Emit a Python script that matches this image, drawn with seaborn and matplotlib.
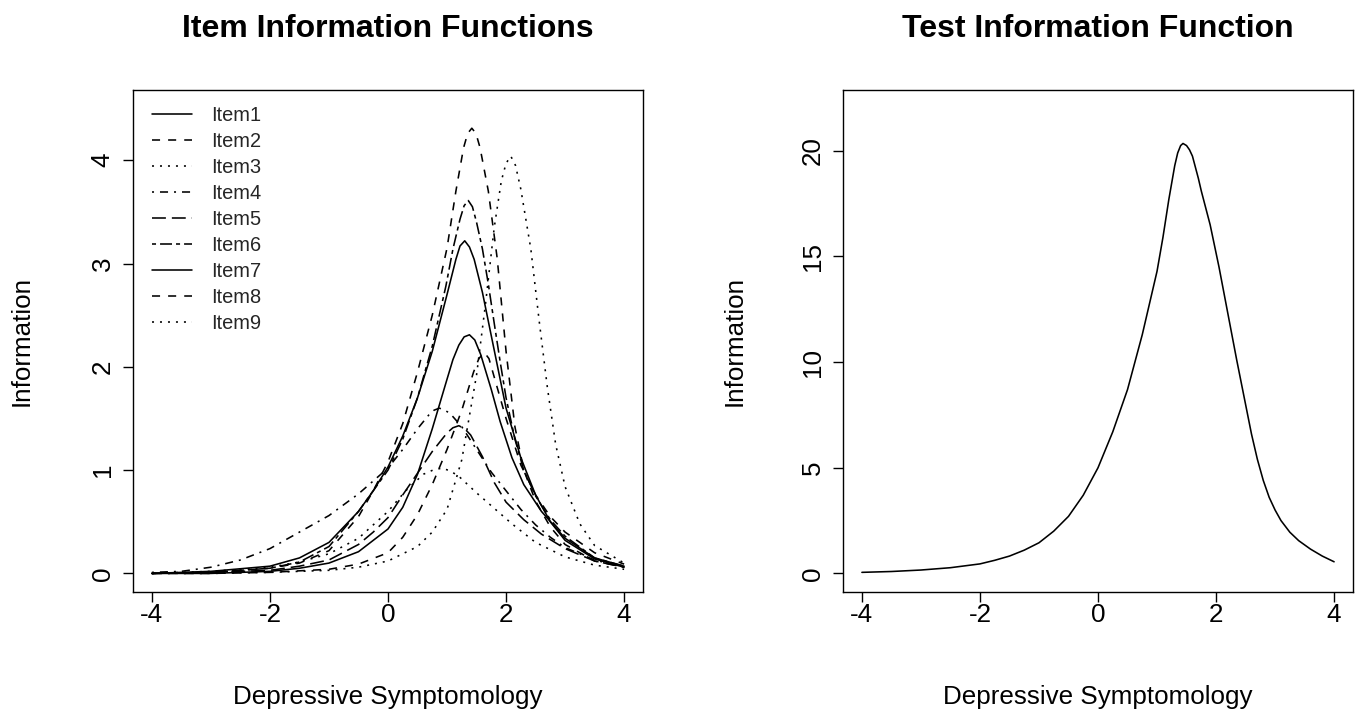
import matplotlib
matplotlib.use("Agg")
import matplotlib.pyplot as plt
import seaborn as sns
import pandas as pd

# ---------------- data ----------------
item_names = ["Item1", "Item2", "Item3", "Item4", "Item5", "Item6", "Item7", "Item8", "Item9"]

item1_theta = [-4, -3, -2, -1.5, -1, -0.5, -0.25, 0, 0.25, 0.5, 0.75, 1, 1.15, 1.22, 1.3, 1.38, 1.46, 1.6, 1.75, 2, 2.25, 2.5, 2.75, 3, 3.5, 4]
item1_info = [0.00, 0.02, 0.07, 0.15, 0.30, 0.60, 0.80, 1.03, 1.33, 1.70, 2.15, 2.70, 3.04, 3.17, 3.22, 3.16, 3.04, 2.72, 2.30, 1.60, 1.12, 0.76, 0.50, 0.32, 0.14, 0.06]

item2_theta = [-4, -3, -2, -1.5, -1, -0.5, -0.25, 0, 0.25, 0.5, 0.75, 1, 1.15, 1.28, 1.35, 1.42, 1.49, 1.56, 1.7, 1.85, 2, 2.15, 2.3, 2.5, 2.75, 3, 3.5, 4]
item2_info = [0.00, 0.01, 0.05, 0.10, 0.22, 0.55, 0.80, 1.08, 1.45, 1.95, 2.50, 3.15, 3.70, 4.12, 4.26, 4.31, 4.26, 4.12, 3.70, 3.05, 2.15, 1.42, 1.00, 0.70, 0.45, 0.28, 0.12, 0.06]

item3_theta = [-4, -3, -2, -1, -0.5, 0, 0.5, 0.75, 1, 1.25, 1.5, 1.65, 1.8, 1.92, 2.0, 2.08, 2.16, 2.25, 2.42, 2.56, 2.7, 2.84, 3, 3.25, 3.5, 4]
item3_info = [0.00, 0.00, 0.01, 0.03, 0.06, 0.12, 0.26, 0.40, 0.62, 1.10, 1.92, 2.60, 3.35, 3.80, 3.97, 4.04, 3.95, 3.72, 3.14, 2.45, 1.80, 1.25, 0.84, 0.48, 0.27, 0.10]

item4_theta = [-4, -3.5, -3, -2.5, -2, -1.5, -1, -0.5, 0, 0.25, 0.5, 0.7, 0.78, 0.87, 0.96, 1.05, 1.25, 1.5, 1.75, 2, 2.25, 2.5, 2.75, 3, 3.5, 4]
item4_info = [0.01, 0.02, 0.06, 0.13, 0.24, 0.40, 0.56, 0.77, 1.02, 1.20, 1.40, 1.54, 1.58, 1.60, 1.58, 1.55, 1.42, 1.20, 0.98, 0.80, 0.62, 0.47, 0.35, 0.25, 0.13, 0.06]

item5_theta = [-4, -3, -2, -1.5, -1, -0.5, -0.25, 0, 0.25, 0.5, 0.75, 1, 1.1, 1.2, 1.3, 1.4, 1.6, 1.8, 2, 2.3, 2.6, 3, 3.5, 4]
item5_info = [0.00, 0.01, 0.03, 0.07, 0.13, 0.28, 0.40, 0.54, 0.76, 0.97, 1.18, 1.36, 1.41, 1.43, 1.40, 1.34, 1.13, 0.88, 0.69, 0.52, 0.38, 0.24, 0.12, 0.06]

item6_theta = [-4, -3, -2, -1.5, -1, -0.5, -0.25, 0, 0.25, 0.5, 0.75, 0.98, 1.1, 1.22, 1.29, 1.36, 1.43, 1.5, 1.6, 1.7, 1.8, 1.9, 2, 2.15, 2.3, 2.5, 2.75, 3, 3.5, 4]
item6_info = [0.00, 0.01, 0.05, 0.11, 0.26, 0.60, 0.80, 1.00, 1.30, 1.70, 2.20, 2.78, 3.14, 3.43, 3.56, 3.61, 3.55, 3.40, 3.14, 2.80, 2.42, 2.05, 1.70, 1.30, 1.00, 0.75, 0.52, 0.36, 0.15, 0.07]

item7_theta = [-4, -3, -2, -1.5, -1, -0.5, 0, 0.25, 0.5, 0.75, 1, 1.1, 1.2, 1.29, 1.38, 1.47, 1.57, 1.75, 1.9, 2.1, 2.3, 2.6, 3, 3.5, 4]
item7_info = [0.00, 0.00, 0.02, 0.05, 0.10, 0.21, 0.43, 0.64, 0.96, 1.40, 1.88, 2.07, 2.21, 2.29, 2.31, 2.26, 2.12, 1.78, 1.47, 1.12, 0.86, 0.60, 0.34, 0.15, 0.07]

item8_theta = [-4, -3, -2, -1, -0.5, 0, 0.25, 0.5, 0.75, 1, 1.25, 1.45, 1.54, 1.63, 1.71, 1.8, 2, 2.25, 2.5, 2.75, 3, 3.5, 4]
item8_info = [0.00, 0.00, 0.01, 0.04, 0.09, 0.20, 0.35, 0.57, 0.86, 1.20, 1.58, 1.95, 2.08, 2.14, 2.08, 1.90, 1.50, 1.05, 0.76, 0.55, 0.40, 0.20, 0.09]

item9_theta = [-4, -3, -2, -1.5, -1, -0.5, 0, 0.3, 0.6, 0.76, 0.92, 1.06, 1.2, 1.5, 1.8, 2.1, 2.5, 3, 3.5, 4]
item9_info = [0.00, 0.02, 0.06, 0.11, 0.19, 0.34, 0.60, 0.80, 0.96, 1.00, 1.02, 0.99, 0.94, 0.78, 0.63, 0.48, 0.30, 0.16, 0.08, 0.04]

test_theta = [-4, -3.5, -3, -2.5, -2, -1.75, -1.5, -1.25, -1, -0.75, -0.5, -0.25, 0, 0.25, 0.5, 0.75, 1, 1.1, 1.2, 1.25, 1.3, 1.35, 1.4, 1.44, 1.5, 1.55, 1.6, 1.7, 1.75, 1.9, 2.05, 2.2, 2.35, 2.5, 2.6, 2.7, 2.8, 2.9, 3.0, 3.1, 3.25, 3.4, 3.6, 3.8, 4]
test_info = [0.05, 0.09, 0.16, 0.27, 0.45, 0.62, 0.82, 1.10, 1.45, 2.00, 2.70, 3.70, 5.00, 6.70, 8.70, 11.30, 14.30, 15.90, 17.70, 18.50, 19.30, 19.90, 20.25, 20.35, 20.25, 20.05, 19.75, 18.70, 18.10, 16.50, 14.50, 12.30, 10.10, 8.00, 6.60, 5.40, 4.40, 3.60, 3.00, 2.50, 1.95, 1.55, 1.15, 0.82, 0.55]

x_ticks = [-4, -2, 0, 2, 4]
item_y_ticks = [0, 1, 2, 3, 4]
test_y_ticks = [0, 5, 10, 15, 20]

titles = ["Item Information Functions", "Test Information Function"]
x_label = "Depressive Symptomology"
y_label = "Information"

# ---------------- style ----------------
sns.set_theme(style="white")
plt.rcParams["font.family"] = ["Liberation Sans", "DejaVu Sans"]
plt.rcParams["axes.unicode_minus"] = False
plt.rcParams["lines.scale_dashes"] = False

BASE = 14.4          # legend text
AX_FS = 18.7         # tick labels and axis labels
TITLE_FS = 23.0      # titles

lty = {
    "solid": "-",
    "dashed": (0, (5.8, 5.8)),
    "dotted": (0, (1.45, 4.3)),
    "dotdash": (0, (1.45, 4.3, 5.8, 4.3)),
    "longdash": (0, (10.0, 4.3)),
    "twodash": (0, (2.9, 2.9, 8.6, 2.9)),
}
item_lty = ["solid", "dashed", "dotted", "dotdash", "longdash", "twodash", "solid", "dashed", "dotted"]

thetas = [item1_theta, item2_theta, item3_theta, item4_theta, item5_theta,
          item6_theta, item7_theta, item8_theta, item9_theta]
infos = [item1_info, item2_info, item3_info, item4_info, item5_info,
         item6_info, item7_info, item8_info, item9_info]

fig = plt.figure(figsize=(13.62, 7.28), dpi=100)
fig.patch.set_facecolor("white")
W, H = 1362.0, 728.0
box_l1, box_l2, box_w = 133, 843, 510
box_top, box_bot = 90, 592
box_h = box_bot - box_top
ax1 = fig.add_axes([box_l1 / W, (H - box_bot) / H, box_w / W, box_h / H])
ax2 = fig.add_axes([box_l2 / W, (H - box_bot) / H, box_w / W, box_h / H])

LW = 1.15
for name, th, inf, lt in zip(item_names, thetas, infos, item_lty):
    df = pd.DataFrame({"theta": th, "info": inf})
    sns.lineplot(data=df, x="theta", y="info", ax=ax1, color="black",
                 linewidth=LW, linestyle=lty[lt], label=name,
                 estimator=None, sort=False)

df_t = pd.DataFrame({"theta": test_theta, "info": test_info})
sns.lineplot(data=df_t, x="theta", y="info", ax=ax2, color="black",
             linewidth=LW, estimator=None, sort=False)

ax1.set_xlim(-4.32, 4.32)
ax1.set_ylim(-0.18, 4.68)
ax2.set_xlim(-4.32, 4.32)
ax2.set_ylim(-0.88, 22.88)

for ax, yt, title in [(ax1, item_y_ticks, titles[0]), (ax2, test_y_ticks, titles[1])]:
    ax.set_facecolor("white")
    ax.grid(False)
    for sp in ax.spines.values():
        sp.set_visible(True)
        sp.set_color("black")
        sp.set_linewidth(1.0)
    ax.set_xticks(x_ticks)
    ax.set_xticklabels([str(v) for v in x_ticks])
    ax.set_yticks(yt)
    ax.set_yticklabels([str(v) for v in yt])
    ax.tick_params(axis="both", which="major", direction="out", length=7.2,
                   width=1.0, color="black", labelsize=AX_FS, labelcolor="black",
                   bottom=True, left=True, top=False, right=False)
    ax.tick_params(axis="x", pad=1.0)
    ax.tick_params(axis="y", pad=5.9, labelrotation=90)
    for t in ax.get_yticklabels():
        t.set_va("center")
    ax.set_xlabel(x_label, fontsize=AX_FS, color="black")
    ax.set_ylabel(y_label, fontsize=AX_FS, color="black")
    ax.xaxis.set_label_coords(0.5, (box_bot - 697) / box_h)
    ax.xaxis.label.set_va("center")
    ax.set_title(title, fontsize=TITLE_FS, fontweight="bold", color="black",
                 y=1 + (box_top - 29) / box_h, va="center", pad=0)

ax1.yaxis.set_label_coords((22 - box_l1) / box_w, 0.5)
ax2.yaxis.set_label_coords((735 - box_l2) / box_w, 0.5)
ax1.yaxis.label.set_va("center")
ax2.yaxis.label.set_va("center")

leg = ax1.legend(loc="upper left", bbox_to_anchor=(19 / box_w, 1 - 16 / box_h),
                 frameon=False, fontsize=BASE, handlelength=2.0, handletextpad=0.95,
                 labelspacing=0.35, borderaxespad=0, borderpad=0)
if ax2.get_legend() is not None:
    ax2.get_legend().remove()

fig.savefig("out.png", dpi=100, facecolor="white")
